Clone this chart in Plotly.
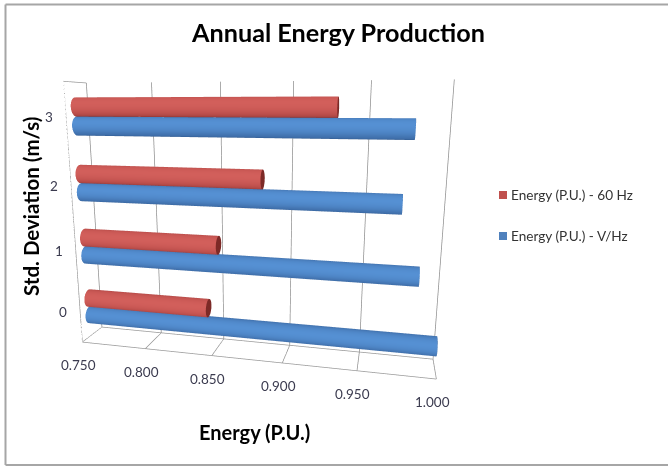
import numpy as np
import plotly.graph_objects as go

# Annual energy production per wind-speed standard deviation
categories = ["0", "1", "2", "3"]
energy_60hz = [0.844, 0.852, 0.883, 0.931]
energy_vhz = [1.000, 0.986, 0.973, 0.978]
energy_ticks = [0.75, 0.80, 0.85, 0.90, 0.95, 1.00]
energy_labels = ["0.750", "0.800", "0.850", "0.900", "0.950", "1.000"]
series_names = ["Energy (P.U.) - 60 Hz", "Energy (P.U.) - V/Hz"]
series_colors = ["#c0504d", "#4f81bd"]

W, H = 668, 466
X0, X1 = 0.75, 1.0
Y0, Y1 = 0.0, 1.0
Z0, Z1 = 0.0, 4.0
ASPECT = dict(x=1.55, y=0.184, z=1.154)
RZ = 0.14
RY = RZ / (Z1 - Z0) * ASPECT["z"] / ASPECT["y"]
YC = 0.445

RED = [[0, "#6a2220"], [0.285, "#7a2826"], [0.5, "#a84441"], [0.715, "#bd4f4c"], [1, "#d25f5b"]]
BLUE = [[0, "#1f4070"], [0.285, "#264a78"], [0.5, "#3c6ba6"], [0.715, "#4577b4"], [1, "#5590d3"]]
FLAT = dict(ambient=1, diffuse=0, specular=0, fresnel=0)


def cylinder(value, zc, colorscale):
    """Horizontal cylinder from the axis minimum to value, plus its darker end cap."""
    theta = np.linspace(0, 2 * np.pi, 61)
    tt, xx = np.meshgrid(theta, np.array([X0, value]))
    shade = 0.5 + 0.5 * (-0.9 * np.cos(tt) + 0.43 * np.sin(tt))
    body = go.Surface(x=xx, y=YC + RY * np.cos(tt), z=zc + RZ * np.sin(tt),
                      surfacecolor=shade, cmin=0, cmax=1,
                      colorscale=colorscale, showscale=False, showlegend=False,
                      lighting=FLAT, hoverinfo="skip")
    rr, tc = np.meshgrid(np.array([0, 1.0]), theta)
    cap = go.Surface(x=np.full_like(rr, value), y=YC + RY * rr * np.cos(tc),
                     z=zc + RZ * rr * np.sin(tc),
                     surfacecolor=np.full_like(rr, 0.3), cmin=0, cmax=1,
                     colorscale=colorscale, showscale=False, showlegend=False,
                     lighting=FLAT, hoverinfo="skip")
    return [body, cap]


fig = go.Figure()
for i in range(len(categories)):
    fig.add_traces(cylinder(energy_60hz[i], i + 0.5 + RZ, RED))
    fig.add_traces(cylinder(energy_vhz[i], i + 0.5 - RZ, BLUE))

# Wall and floor outline
edges = [
    ([X0, X1], [Y0, Y0], [Z0, Z0]),
    ([X0, X0], [Y0, Y1], [Z0, Z0]),
    ([X1, X1], [Y0, Y1], [Z0, Z0]),
    ([X0, X1], [Y1, Y1], [Z0, Z0]),
    ([X0, X0], [Y0, Y0], [Z0, Z1]),
    ([X0, X0], [Y0, Y1], [Z1, Z1]),
]
for ex, ey, ez in edges:
    fig.add_trace(go.Scatter3d(x=ex, y=ey, z=ez, mode="lines", showlegend=False,
                               line=dict(color="#999999", width=1.5), hoverinfo="skip"))

tick_font = dict(family="Lato, Open Sans, sans-serif", size=13.5, color="#3b3b4f")
annotations = []
for v, label in zip(energy_ticks, energy_labels):
    annotations.append(dict(x=v, y=Y0, z=Z0, text=label, showarrow=False,
                            font=tick_font, yshift=-23, xshift=-4))
for i, label in enumerate(categories):
    annotations.append(dict(x=X0, y=Y0, z=i + 0.5, text=label, showarrow=False,
                            font=tick_font, xshift=-17))

hidden = dict(showbackground=False, zeroline=False, showticklabels=False,
              ticks="", showspikes=False, title=dict(text=""), showline=False)

frame = dict(color="#a6a6a6", width=2)
shapes = [
    dict(type="line", xref="paper", yref="paper", x0=5.5 / W, x1=1, y0=1 - 4.5 / H, y1=1 - 4.5 / H, line=frame),
    dict(type="line", xref="paper", yref="paper", x0=5.5 / W, x1=5.5 / W, y0=1 - 4.5 / H, y1=1 - 465 / H, line=frame),
    dict(type="line", xref="paper", yref="paper", x0=5.5 / W, x1=1, y0=1 - 465 / H, y1=1 - 465 / H, line=frame),
]
paper_notes = [
    dict(text="<b>Energy (P.U.)</b>", xref="paper", yref="paper", x=254 / W, y=1 - 432 / H,
         xanchor="center", yanchor="middle", showarrow=False,
         font=dict(family="Lato, sans-serif", size=20, color="black")),
    dict(text="<b>Std. Deviation (m/s)</b>", xref="paper", yref="paper", x=31 / W, y=1 - 207 / H,
         xanchor="center", yanchor="middle", textangle=-90, showarrow=False,
         font=dict(family="Lato, sans-serif", size=20.5, color="black")),
]
# Legend keys and labels
for name, color, ypx in zip(series_names, series_colors, [195, 236]):
    shapes.append(dict(type="rect", xref="paper", yref="paper", x0=499 / W, x1=507 / W,
                       y0=1 - (ypx + 4) / H, y1=1 - (ypx - 4) / H,
                       fillcolor=color, line=dict(width=0)))
    paper_notes.append(dict(text=name, xref="paper", yref="paper", x=509 / W, y=1 - ypx / H,
                            xanchor="left", yanchor="middle", showarrow=False,
                            font=dict(family="Lato, Open Sans, sans-serif", size=13.6, color="#333333")))

fig.update_layout(
    width=W, height=H,
    margin=dict(l=0, r=0, t=0, b=0),
    paper_bgcolor="white",
    showlegend=False,
    font=dict(family="Lato, Open Sans, sans-serif", color="#222222"),
    title=dict(text="<b>Annual Energy Production</b>", x=338.5 / W, y=1 - 33 / H,
               xanchor="center", yanchor="middle",
               font=dict(family="Lato, sans-serif", size=25.2, color="black")),
    scene=dict(
        domain=dict(x=[0.0, 0.76], y=[0.0, 1.0]),
        aspectmode="manual", aspectratio=ASPECT,
        camera=dict(eye=dict(x=0.543, y=-2.248, z=0.480),
                    center=dict(x=0.011, y=0, z=-0.044),
                    up=dict(x=-0.036, y=0, z=1),
                    projection=dict(type="perspective")),
        xaxis=dict(range=[X0, X1], tickvals=energy_ticks, showgrid=True,
                   gridcolor="#8f8f8f", gridwidth=1.5, **hidden),
        yaxis=dict(range=[Y0, Y1], showgrid=False, **hidden),
        zaxis=dict(range=[Z0, Z1], showgrid=False, **hidden),
        annotations=annotations,
    ),
    annotations=paper_notes,
    shapes=shapes,
)

fig.write_html("out.html")
